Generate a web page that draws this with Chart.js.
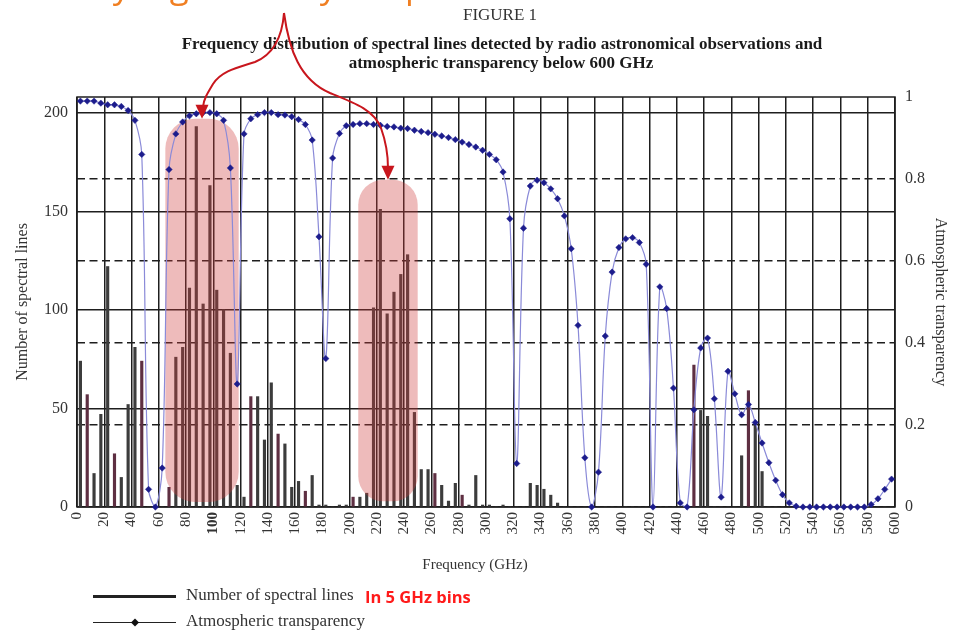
<!DOCTYPE html>
<html>
<head>
<meta charset="utf-8">
<script src="https://cdn.jsdelivr.net/npm/chart.js@4.4.1/dist/chart.umd.min.js"></script>
<style>
  html, body { margin: 0; padding: 0; background: #fff; }
</style>
</head>
<body>
<canvas id="myChart" width="953" height="632"></canvas>
<script>
// 5 GHz bins (bin centres, GHz)
var freq = [
  2.5, 7.5, 12.5, 17.5, 22.5, 27.5, 32.5, 37.5, 42.5, 47.5,
  52.5, 57.5, 62.5, 67.5, 72.5, 77.5, 82.5, 87.5, 92.5, 97.5,
  102.5, 107.5, 112.5, 117.5, 122.5, 127.5, 132.5, 137.5, 142.5, 147.5,
  152.5, 157.5, 162.5, 167.5, 172.5, 177.5, 182.5, 187.5, 192.5, 197.5,
  202.5, 207.5, 212.5, 217.5, 222.5, 227.5, 232.5, 237.5, 242.5, 247.5,
  252.5, 257.5, 262.5, 267.5, 272.5, 277.5, 282.5, 287.5, 292.5, 297.5,
  302.5, 307.5, 312.5, 317.5, 322.5, 327.5, 332.5, 337.5, 342.5, 347.5,
  352.5, 357.5, 362.5, 367.5, 372.5, 377.5, 382.5, 387.5, 392.5, 397.5,
  402.5, 407.5, 412.5, 417.5, 422.5, 427.5, 432.5, 437.5, 442.5, 447.5,
  452.5, 457.5, 462.5, 467.5, 472.5, 477.5, 482.5, 487.5, 492.5, 497.5,
  502.5, 507.5, 512.5, 517.5, 522.5, 527.5, 532.5, 537.5, 542.5, 547.5,
  552.5, 557.5, 562.5, 567.5, 572.5, 577.5, 582.5, 587.5, 592.5, 597.5
];

// number of spectral lines per bin
var nLines = [
  74, 57, 17, 47, 122, 27, 15, 52, 81, 74,
  0, 0, 0, 10, 76, 81, 111, 193, 103, 163,
  110, 100, 78, 11, 5, 56, 56, 34, 63, 37,
  32, 10, 13, 8, 16, 1, 1, 0, 1, 1,
  5, 5, 7, 101, 151, 98, 109, 118, 128, 48,
  19, 19, 17, 11, 3, 12, 6, 1, 16, 1,
  1, 0, 1, 0, 0, 0, 12, 11, 9, 6,
  2, 0, 0, 0, 0, 0, 0, 0, 0, 0,
  0, 0, 0, 0, 0, 0, 0, 0, 0, 0,
  72, 49, 46, 0, 0, 0, 0, 26, 59, 42,
  18, 0, 0, 0, 0, 0, 0, 0, 0, 0,
  0, 0, 0, 0, 0, 0, 0, 0, 0, 0
];

// atmospheric transparency at each bin
var transparency = [
  0.990, 0.990, 0.990, 0.985, 0.981, 0.981, 0.977, 0.967, 0.943, 0.860,
  0.043, 0.000, 0.095, 0.823, 0.910, 0.939, 0.954, 0.959, 0.962, 0.962,
  0.959, 0.943, 0.827, 0.300, 0.910, 0.947, 0.957, 0.962, 0.962, 0.957,
  0.956, 0.952, 0.945, 0.933, 0.895, 0.659, 0.362, 0.851, 0.911, 0.930,
  0.933, 0.935, 0.935, 0.933, 0.931, 0.928, 0.927, 0.924, 0.923, 0.919,
  0.916, 0.913, 0.909, 0.905, 0.901, 0.896, 0.890, 0.884, 0.878, 0.870,
  0.860, 0.847, 0.817, 0.703, 0.106, 0.680, 0.783, 0.797, 0.791, 0.776,
  0.752, 0.710, 0.630, 0.443, 0.120, 0.000, 0.085, 0.417, 0.573, 0.633,
  0.654, 0.657, 0.645, 0.592, 0.000, 0.537, 0.484, 0.290, 0.010, 0.000,
  0.237, 0.388, 0.412, 0.264, 0.024, 0.331, 0.276, 0.225, 0.250, 0.206,
  0.156, 0.108, 0.065, 0.030, 0.010, 0.002, 0.000, 0.000, 0.000, 0.000,
  0.000, 0.000, 0.000, 0.000, 0.000, 0.000, 0.006, 0.020, 0.043, 0.068
];

var freqTicks = [0, 20, 40, 60, 80, 100, 120, 140, 160, 180, 200, 220, 240, 260, 280, 300,
  320, 340, 360, 380, 400, 420, 440, 460, 480, 500, 520, 540, 560, 580, 600];
var linesTicks = [0, 50, 100, 150, 200];
var transTicks = [0, 0.2, 0.4, 0.6, 0.8, 1];

// bars that look reddish in the scan
var maroonBins = [7.5, 27.5, 47.5, 67.5, 127.5, 147.5, 167.5, 202.5, 262.5, 282.5, 452.5, 492.5];

// the two shaded zones (GHz / number of lines)
var zones = [
  { from: 64.8, to: 118.6, top: 197, bottom: 2.5, radius: 30 },
  { from: 206.3, to: 249.9, top: 166, bottom: 2.9, radius: 25 }
];

var serif = "'Liberation Serif', 'Times New Roman', serif";
var gridColor = '#1e1e1e';

var decor = {
  id: 'decor',
  beforeDatasetsDraw: function (chart) {
    var a = chart.chartArea, ctx = chart.ctx;
    ctx.save();
    ctx.strokeStyle = gridColor;
    ctx.lineWidth = 1.5;
    ctx.strokeRect(a.left, a.top, a.right - a.left, a.bottom - a.top);
    ctx.restore();
  },
  beforeDatasetDraw: function (chart, args) {
    if (args.index !== 1) return;
    var x = chart.scales.x, y = chart.scales.y, ctx = chart.ctx;
    ctx.save();
    ctx.fillStyle = 'rgba(205, 60, 60, 0.35)';
    zones.forEach(function (z) {
      var l = x.getPixelForValue(z.from), r = x.getPixelForValue(z.to);
      var t = y.getPixelForValue(z.top), b = y.getPixelForValue(z.bottom);
      ctx.beginPath();
      ctx.roundRect(l, t, r - l, b - t, z.radius);
      ctx.fill();
    });
    ctx.restore();
  },
  afterDraw: function (chart) {
    var ctx = chart.ctx, x = chart.scales.x, y = chart.scales.y;
    ctx.save();

    // orange note, cut by the top edge
    ctx.fillStyle = '#f07f22';
    ctx.font = "35px 'Open Sans', sans-serif";
    ctx.textBaseline = 'alphabetic';
    ctx.textAlign = 'left';
    ctx.fillText('Very high density of spectral lines', 58, -2);

    // titles
    ctx.fillStyle = '#333';
    ctx.textAlign = 'center';
    ctx.textBaseline = 'middle';
    ctx.font = '17px ' + serif;
    ctx.fillText('FIGURE 1', 500, 16);
    ctx.fillStyle = '#1a1a1a';
    ctx.font = 'bold 17px ' + serif;
    ctx.fillText('Frequency distribution of spectral lines detected by radio astronomical observations and', 502, 45);
    ctx.fillText('atmospheric transparency below 600 GHz', 501, 64);

    // x axis title
    ctx.fillStyle = '#333';
    ctx.font = '15px ' + serif;
    ctx.fillText('Frequency (GHz)', 475, 565);

    // legend
    ctx.strokeStyle = '#222';
    ctx.lineWidth = 3;
    ctx.beginPath(); ctx.moveTo(93, 596.5); ctx.lineTo(176, 596.5); ctx.stroke();
    ctx.lineWidth = 1;
    ctx.beginPath(); ctx.moveTo(93, 622.5); ctx.lineTo(176, 622.5); ctx.stroke();
    ctx.fillStyle = '#111';
    ctx.beginPath();
    ctx.moveTo(135, 618.5); ctx.lineTo(139, 622.5); ctx.lineTo(135, 626.5); ctx.lineTo(131, 622.5);
    ctx.closePath(); ctx.fill();
    ctx.fillStyle = '#333';
    ctx.textAlign = 'left';
    ctx.font = '17px ' + serif;
    ctx.fillText('Number of spectral lines', 186, 596);
    ctx.fillText('Atmospheric transparency', 186, 622);
    ctx.fillStyle = '#ff1a1a';
    ctx.font = "bold 16.5px 'Open Sans', sans-serif";
    ctx.fillText('In 5 GHz bins', 365, 598);

    // red arrows from the note to the zones
    ctx.strokeStyle = '#c8161d';
    ctx.fillStyle = '#c8161d';
    ctx.lineWidth = 2;
    var tips = zones.map(function (z) {
      return { x: x.getPixelForValue((z.from + z.to) / 2), y: y.getPixelForValue(z.top) };
    });
    var t0 = tips[0], t1 = tips[1];
    ctx.beginPath();
    ctx.moveTo(284, 13);
    ctx.bezierCurveTo(282, 40, 272, 55, 255, 62);
    ctx.bezierCurveTo(240, 67, 222, 70, 213, 84);
    ctx.bezierCurveTo(207, 94, t0.x + 2, t0.y - 20, t0.x + 1, t0.y - 12);
    ctx.stroke();
    ctx.beginPath();
    ctx.moveTo(284, 13);
    ctx.bezierCurveTo(289, 50, 300, 80, 330, 93);
    ctx.bezierCurveTo(355, 103, 374, 110, 381, 128);
    ctx.bezierCurveTo(386, 142, t1.x, t1.y - 25, t1.x, t1.y - 12);
    ctx.stroke();
    tips.forEach(function (t) {
      ctx.beginPath();
      ctx.moveTo(t.x, t.y);
      ctx.lineTo(t.x - 6.5, t.y - 14);
      ctx.lineTo(t.x + 6.5, t.y - 14);
      ctx.closePath();
      ctx.fill();
    });
    ctx.restore();
  }
};

var ctx = document.getElementById('myChart');

new Chart(ctx, {
  data: {
    datasets: [
      {
        type: 'bar',
        label: 'Number of spectral lines',
        data: freq.map(function (f, i) { return { x: f, y: nLines[i] }; }),
        backgroundColor: function (c) {
          return maroonBins.indexOf(freq[c.dataIndex]) >= 0 ? '#5e2f42' : '#3c3c3c';
        },
        barThickness: 2.5,
        yAxisID: 'y',
        order: 2
      },
      {
        type: 'line',
        label: 'Atmospheric transparency',
        data: freq.map(function (f, i) { return { x: f, y: transparency[i] }; }),
        borderColor: '#8a8ad8',
        borderWidth: 1.2,
        tension: 0.35,
        pointStyle: 'rectRot',
        pointRadius: 3.2,
        pointBackgroundColor: '#1c1c8c',
        pointBorderColor: '#1c1c8c',
        pointBorderWidth: 0.5,
        clip: 5,
        yAxisID: 'y2',
        order: 1
      }
    ]
  },
  options: {
    responsive: false,
    animation: false,
    layout: { padding: { top: 97, left: 0, right: 0, bottom: 0 } },
    plugins: {
      legend: { display: false },
      tooltip: { enabled: false },
      title: { display: false }
    },
    scales: {
      x: {
        type: 'linear',
        position: 'bottom',
        offset: false,
        min: 0,
        max: 600,
        afterBuildTicks: function (s) { s.ticks = freqTicks.map(function (v) { return { value: v }; }); },
        afterFit: function (s) { s.height = 125; },
        ticks: {
          autoSkip: false,
          minRotation: 90,
          maxRotation: 90,
          padding: 5,
          color: '#333',
          font: function (c) {
            return { family: serif, size: 15, weight: c.tick && c.tick.value === 100 ? 'bold' : 'normal' };
          }
        },
        grid: { offset: false, color: gridColor, lineWidth: 1.5, drawTicks: false },
        border: { display: false }
      },
      y: {
        position: 'left',
        min: 0,
        max: 208,
        afterBuildTicks: function (s) { s.ticks = linesTicks.map(function (v) { return { value: v }; }); },
        afterFit: function (s) { s.width = 77; },
        ticks: { padding: 9, color: '#333', font: { family: serif, size: 16 } },
        grid: { color: gridColor, lineWidth: 1.5, drawTicks: false },
        border: { display: false },
        title: {
          display: true,
          text: 'Number of spectral lines',
          color: '#333',
          font: { family: serif, size: 16 },
          padding: { top: 13, bottom: 4 }
        }
      },
      y2: {
        position: 'right',
        min: 0,
        max: 1,
        afterBuildTicks: function (s) { s.ticks = transTicks.map(function (v) { return { value: v }; }); },
        afterFit: function (s) { s.width = 58; },
        ticks: {
          padding: 10,
          color: '#333',
          font: { family: serif, size: 16 },
          callback: function (v) { return String(v); }
        },
        grid: {
          color: function (c) {
            var v = c.tick ? c.tick.value : 0;
            return (v === 0 || v === 1) ? 'rgba(0,0,0,0)' : gridColor;
          },
          lineWidth: 1.5,
          drawTicks: false
        },
        border: { display: false, dash: [8, 4.5] },
        title: {
          display: true,
          text: 'Atmospheric transparency',
          color: '#333',
          font: { family: serif, size: 16 },
          padding: { top: 3, bottom: 4 }
        }
      }
    }
  },
  plugins: [decor]
});
</script>
</body>
</html>
